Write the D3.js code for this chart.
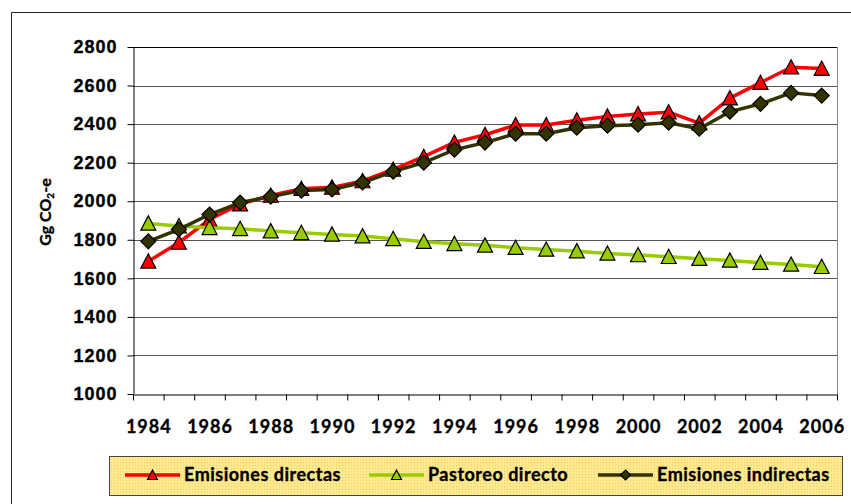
<!DOCTYPE html>
<html>
<head>
<meta charset="utf-8">
<script src="https://cdn.jsdelivr.net/npm/d3@7"></script>
<style>
  body { margin: 0; background: #fff; }
  svg { display: block; font-family: Lato, "Open Sans", sans-serif; font-weight: bold; }
  svg text { stroke: #000; stroke-width: 0.35px; }
</style>
</head>
<body>
<div id="chart"></div>
<script>
// values (Gg CO2-e)
const years = ["1984","1985","1986","1987","1988","1989","1990","1991","1992","1993","1994","1995",
               "1996","1997","1998","1999","2000","2001","2002","2003","2004","2005","2006"];
const directas   = [1688,1786,1905,1985,2030,2065,2072,2105,2165,2231,2305,2345,2395,2395,2420,2440,2452,2462,2405,2535,2615,2695,2688];
const pastoreo   = [1885,1871,1862,1857,1845,1836,1828,1819,1805,1790,1779,1771,1759,1750,1741,1729,1721,1712,1702,1693,1681,1672,1660];
const indirectas = [1792,1854,1931,1993,2024,2055,2061,2097,2154,2200,2267,2304,2350,2350,2381,2392,2397,2407,2376,2464,2505,2562,2548];
const yTicks = [1000,1200,1400,1600,1800,2000,2200,2400,2600,2800];
const xTickLabels = ["1984","1986","1988","1990","1992","1994","1996","1998","2000","2002","2004","2006"];
const seriesNames = ["Emisiones directas", "Pastoreo directo", "Emisiones indirectas"];

const width = 851, height = 504;
const plot = { left: 133, right: 837, top: 47, bottom: 394 };

const series = [
  { name: seriesNames[0], values: directas,   color: "#ff0000", marker: "triangle" },
  { name: seriesNames[1], values: pastoreo,   color: "#99cc00", marker: "triangle" },
  { name: seriesNames[2], values: indirectas, color: "#333300", marker: "diamond" }
];

const x = d3.scaleBand().domain(years).range([plot.left, plot.right]).padding(0);
const xBound = d3.scaleLinear().domain([0, years.length]).range([plot.left, plot.right]);
const y = d3.scaleLinear().domain([1000, 2800]).range([plot.bottom, plot.top]);

const svg = d3.select("#chart").append("svg")
    .attr("width", width)
    .attr("height", height);

// outer chart frame (runs off the picture at right and bottom)
svg.append("path")
    .attr("d", `M11.5,${height}V12.5H${width}`)
    .attr("fill", "none")
    .attr("stroke", "#222");

// gridlines
svg.append("g")
    .selectAll("line")
    .data(yTicks.slice(1))
    .join("line")
    .attr("x1", plot.left).attr("x2", plot.right)
    .attr("y1", d => Math.round(y(d)) + 0.5).attr("y2", d => Math.round(y(d)) + 0.5)
    .attr("stroke", d => d === 2800 ? "#000" : "#555");

// right plot border
svg.append("line")
    .attr("x1", plot.right + 0.5).attr("x2", plot.right + 0.5)
    .attr("y1", plot.top).attr("y2", plot.bottom)
    .attr("stroke", "#888");

// y axis
const yAxis = svg.append("g")
    .attr("transform", `translate(${plot.left + 0.5},0)`)
    .call(d3.axisLeft(y).tickValues(yTicks).tickFormat(d3.format("d"))
      .tickSize(6).tickPadding(10).tickSizeOuter(0));
yAxis.select(".domain").attr("stroke", "#000");
yAxis.selectAll(".tick line").attr("stroke", "#000");
yAxis.selectAll("text")
    .attr("font-size", 18)
    .attr("letter-spacing", "1px")
    .attr("fill", "#000");

// x axis: tick marks on category boundaries
const xAxis = svg.append("g")
    .attr("transform", `translate(0,${plot.bottom + 0.5})`)
    .call(d3.axisBottom(xBound).tickValues(d3.range(years.length + 1)).tickSize(6).tickFormat("").tickSizeOuter(0));
xAxis.select(".domain").attr("stroke", "#000");
xAxis.selectAll(".tick line").attr("stroke", "#000");

svg.append("g")
    .selectAll("text")
    .data(xTickLabels)
    .join("text")
    .attr("x", d => x(d) + x.bandwidth() / 2 + 0.5)
    .attr("y", plot.bottom + 39)
    .attr("text-anchor", "middle")
    .attr("font-size", 18)
    .attr("letter-spacing", "1px")
    .attr("fill", "#000")
    .text(d => d);

// y axis title
const yTitle = svg.append("text")
    .attr("transform", `translate(51,212) rotate(-90)`)
    .attr("text-anchor", "middle")
    .attr("font-size", 16)
    .attr("fill", "#000");
yTitle.append("tspan").text("Gg CO");
yTitle.append("tspan").attr("font-size", 10).attr("dy", 3).text("2");
yTitle.append("tspan").attr("dy", -3).text("-e");

// markers
function markerPath(type, s) {
  if (type === "diamond") return `M0,${-s}L${s},0L0,${s}L${-s},0Z`;
  return `M0,${-s}L${s},${s * 0.9}L${-s},${s * 0.9}Z`;
}

const line = d3.line()
    .x((d, i) => x(years[i]) + x.bandwidth() / 2)
    .y(d => y(d));

for (const s of series) {
  const g = svg.append("g");
  g.append("path")
      .attr("d", line(s.values))
      .attr("fill", "none")
      .attr("stroke", s.color)
      .attr("stroke-width", 3.5)
      .attr("stroke-linejoin", "round");
  g.selectAll("path.m")
      .data(s.values)
      .join("path")
      .attr("class", "m")
      .attr("transform", (d, i) => `translate(${x(years[i]) + x.bandwidth() / 2},${y(d)})`)
      .attr("d", markerPath(s.marker, 7.5))
      .attr("fill", s.color)
      .attr("stroke", "#000")
      .attr("stroke-width", 1.2)
      .attr("stroke-linejoin", "miter");
}

// legend
const defs = svg.append("defs");
const pat = defs.append("pattern")
    .attr("id", "dots")
    .attr("width", 3).attr("height", 3)
    .attr("patternUnits", "userSpaceOnUse");
pat.append("rect").attr("width", 3).attr("height", 3).attr("fill", "#ffe98e");
pat.append("rect").attr("width", 1).attr("height", 1).attr("fill", "#f0cc66");

const legend = svg.append("g");
legend.append("rect")
    .attr("x", 109.5).attr("y", 456.5)
    .attr("width", 733).attr("height", 39)
    .attr("fill", "url(#dots)")
    .attr("stroke", "#444");

const legendX = [125, 369, 598];
series.forEach((s, i) => {
  const g = legend.append("g").attr("transform", `translate(${legendX[i]},475)`);
  g.append("line")
      .attr("x1", 0).attr("x2", 55)
      .attr("stroke", s.color)
      .attr("stroke-width", 3.5);
  g.append("path")
      .attr("transform", "translate(27.5,0)")
      .attr("d", markerPath(s.marker, 5))
      .attr("fill", s.color)
      .attr("stroke", "#000")
      .attr("stroke-width", 1.2);
  g.append("text")
      .attr("x", 59)
      .attr("dy", "0.36em")
      .attr("font-size", 18)
      .attr("letter-spacing", "0.5px")
      .attr("fill", "#000")
      .text(s.name);
});
</script>
</body>
</html>
